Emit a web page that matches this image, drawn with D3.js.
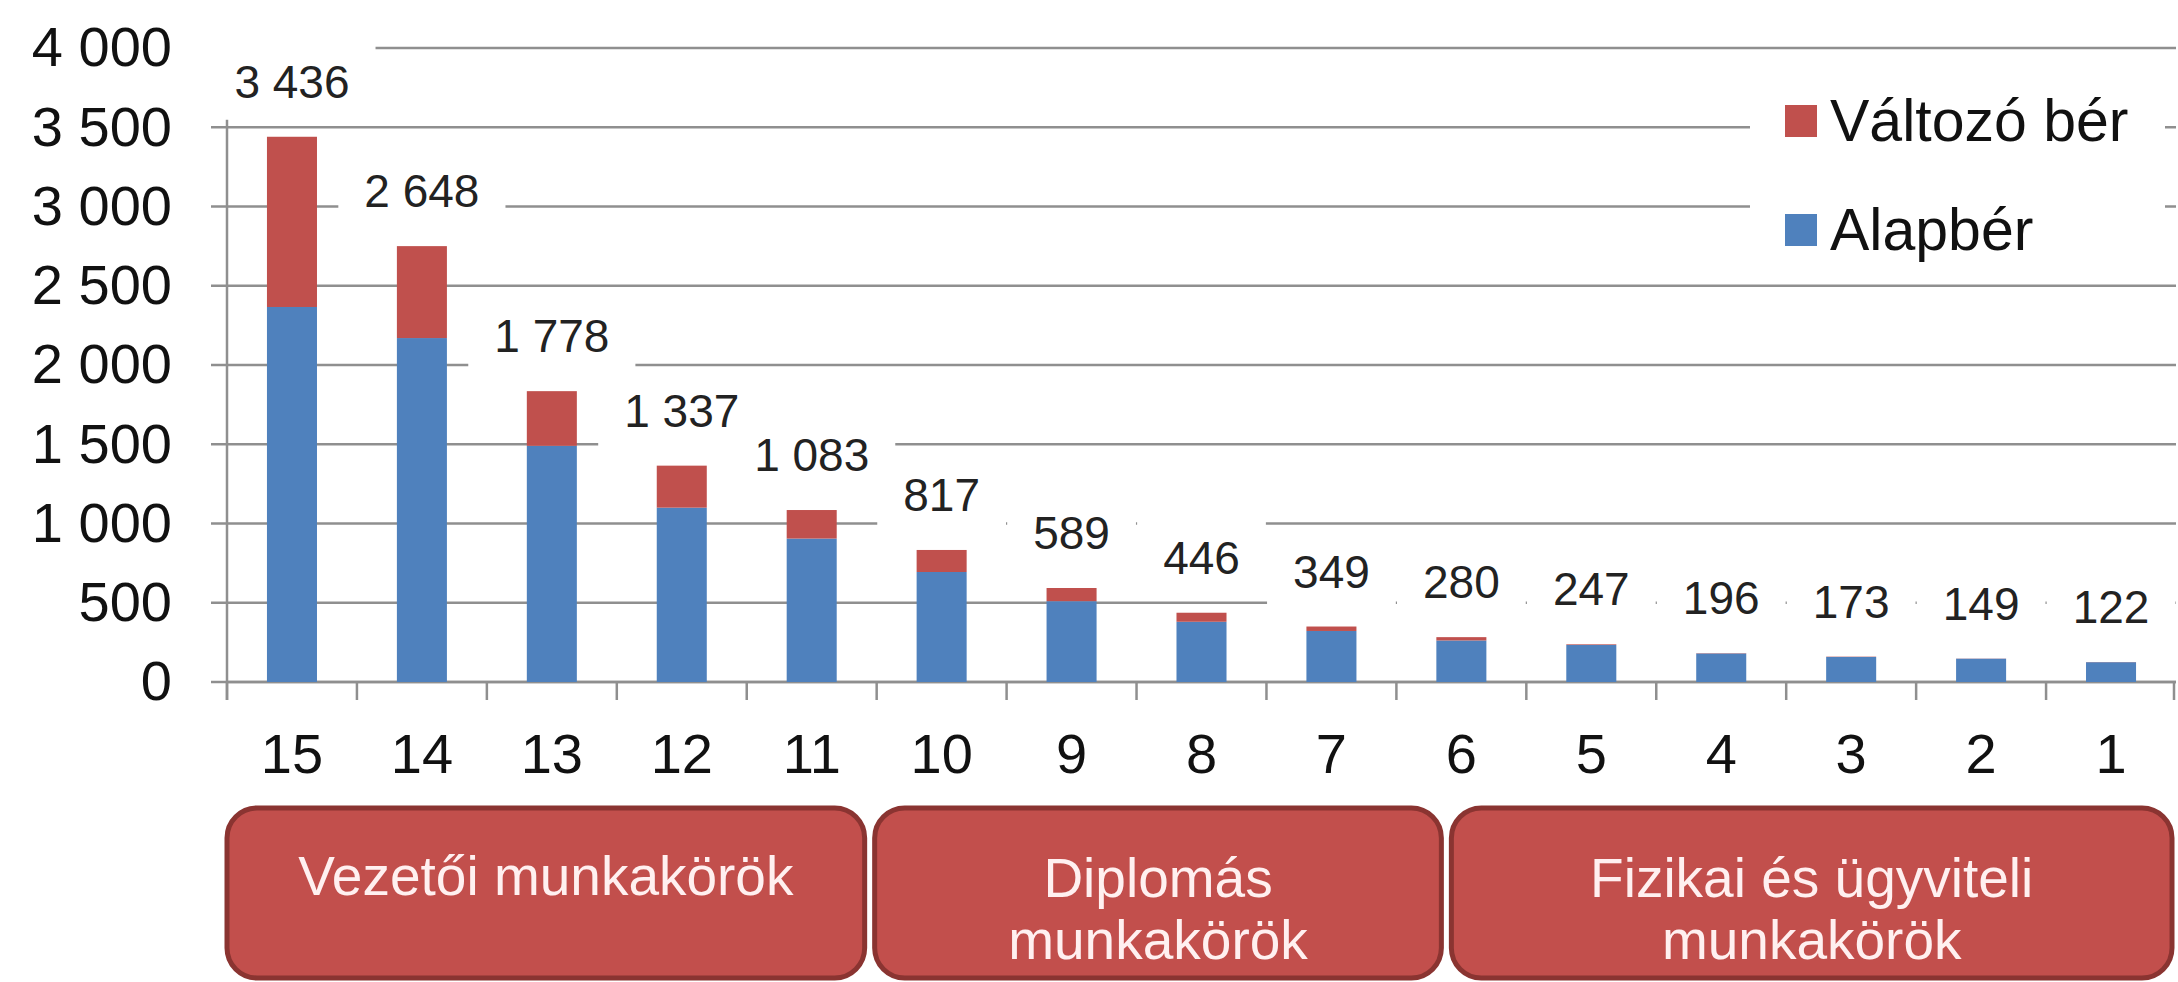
<!DOCTYPE html>
<html>
<head>
<meta charset="utf-8">
<script src="https://cdn.jsdelivr.net/npm/d3@7"></script>
<style>
  html, body { margin: 0; padding: 0; background: #ffffff; }
  svg { display: block; }
  text { font-family: "Liberation Sans", Arial, sans-serif; }
</style>
</head>
<body>
<svg id="chart" width="2178" height="982"></svg>
<script>
// ---- data ----
const categories = ["15","14","13","12","11","10","9","8","7","6","5","4","3","2","1"];
const alapber = [2366, 2170, 1490, 1100, 905, 694, 510, 380, 322, 262, 234, 180, 158, 147, 125];
const valtozo = [1074, 580, 345, 265, 180, 139, 83, 57, 28, 21, 4, 2, 2, 1, 1];
const totalLabels = ["3 436","2 648","1 778","1 337","1 083","817","589","446","349","280","247","196","173","149","122"];
const yTicks = [0, 500, 1000, 1500, 2000, 2500, 3000, 3500, 4000];
const seriesNames = ["Változó bér", "Alapbér"];
const groupLines = [["Vezetői munkakörök"], ["Diplomás", "munkakörök"], ["Fizikai és ügyviteli", "munkakörök"]];

// ---- layout ----
const W = 2178, H = 982;
const colBlue = "#4f81bd", colRed = "#c0504d", gridCol = "#8f8f8f";
const svg = d3.select("#chart");
svg.append("rect").attr("width", W).attr("height", H).attr("fill", "#fff");

const x = d3.scaleBand().domain(categories).range([227, 2176]).paddingInner(0.615).paddingOuter(0.3075);
const y = d3.scaleLinear().domain([0, 4000]).range([682, 48]);
const step = x.step();
const x0 = x.range()[0], x1 = x.range()[1];

const rows = categories.map((c, i) => ({ c, a: alapber[i], v: valtozo[i], lab: totalLabels[i] }));

// gridlines
svg.append("g").selectAll("line").data(yTicks).join("line")
  .attr("x1", x0 - 16).attr("x2", x1)
  .attr("y1", d => y(d)).attr("y2", d => y(d))
  .attr("stroke", gridCol).attr("stroke-width", 2.5);

// y axis tick labels via d3 axis
const yAxis = d3.axisLeft(y).tickValues(yTicks).tickSize(0).tickPadding(55)
  .tickFormat(d => d3.format(",")(d).replace(/,/g, " "));
const gy = svg.append("g").attr("transform", `translate(${x0},0)`).call(yAxis);
gy.select(".domain").remove();
gy.selectAll("text").attr("font-size", 56).attr("fill", "#111").attr("font-family", "Liberation Sans, Arial, sans-serif");

// axis lines
svg.append("line").attr("x1", x0).attr("x2", x0).attr("y1", y(4000)).attr("y2", y(0) + 18)
  .attr("stroke", gridCol).attr("stroke-width", 2.5);
svg.append("line").attr("x1", x0).attr("x2", x1).attr("y1", y(0)).attr("y2", y(0))
  .attr("stroke", gridCol).attr("stroke-width", 2.5);
svg.append("g").selectAll("line").data(d3.range(categories.length + 1)).join("line")
  .attr("x1", i => Math.min(x0 + i * step, x1 - 2)).attr("x2", i => Math.min(x0 + i * step, x1 - 2))
  .attr("y1", y(0)).attr("y2", y(0) + 18)
  .attr("stroke", gridCol).attr("stroke-width", 2.5);

// x axis labels
const xAxis = d3.axisBottom(x).tickSize(0).tickPadding(0);
const gx = svg.append("g").attr("transform", `translate(0,${y(0)})`).call(xAxis);
gx.select(".domain").remove();
gx.selectAll("text").attr("y", 91).attr("dy", 0).attr("font-size", 56).attr("fill", "#111")
  .attr("font-family", "Liberation Sans, Arial, sans-serif");

// data label backgrounds + text
const labelFont = 46;
const lblG = svg.append("g");
const lbl = lblG.selectAll("g").data(rows).join("g")
  .attr("transform", d => `translate(${x(d.c) + x.bandwidth() / 2},${y(d.a + d.v) - 55})`);
lbl.append("rect").attr("class", "bg").attr("fill", "#fff");
lbl.append("text").text(d => d.lab)
  .attr("text-anchor", "middle").attr("dy", "0.35em")
  .attr("font-size", labelFont).attr("fill", "#222");
lbl.each(function () {
  const g = d3.select(this);
  const w = g.select("text").node().getComputedTextLength();
  g.select("rect").attr("x", -w / 2 - 26).attr("width", w + 52).attr("y", -38).attr("height", 76);
});

// stacked bars
const bars = svg.append("g");
bars.selectAll("rect.alap").data(rows).join("rect").attr("class", "alap")
  .attr("x", d => x(d.c)).attr("width", x.bandwidth())
  .attr("y", d => y(d.a)).attr("height", d => y(0) - y(d.a))
  .attr("fill", colBlue);
bars.selectAll("rect.valt").data(rows).join("rect").attr("class", "valt")
  .attr("x", d => x(d.c)).attr("width", x.bandwidth())
  .attr("y", d => y(d.a + d.v)).attr("height", d => y(d.a) - y(d.a + d.v))
  .attr("fill", colRed);

// legend
const leg = svg.append("g");
leg.append("rect").attr("x", 1750).attr("y", 68).attr("width", 415).attr("height", 205).attr("fill", "#fff");
const legItems = [{ name: seriesNames[0], col: colRed, cy: 121 }, { name: seriesNames[1], col: colBlue, cy: 230 }];
const li = leg.selectAll("g").data(legItems).join("g").attr("transform", d => `translate(1785,${d.cy})`);
li.append("rect").attr("x", 0).attr("y", -16).attr("width", 32).attr("height", 32).attr("fill", d => d.col);
li.append("text").text(d => d.name).attr("x", 45).attr("y", 20)
  .attr("font-size", 59).attr("fill", "#111");

// category boxes
const edges = [x0, x0 + 5 * step, x0 + 9.5 * step, x1];
const boxes = groupLines.map((lines, i) => ({
  lines,
  left: i === 0 ? edges[0] : edges[i] - 2 + (i === 2 ? -8 : 0),
  right: i === 2 ? edges[3] - 4 : edges[i + 1] - 12 - (i === 1 ? 8 : 0)
}));
const bx = svg.append("g").selectAll("g").data(boxes).join("g");
bx.append("rect")
  .attr("x", d => d.left).attr("y", 808)
  .attr("width", d => d.right - d.left).attr("height", 170)
  .attr("rx", 30).attr("ry", 30)
  .attr("fill", "#c24f4c").attr("stroke", "#8a3431").attr("stroke-width", 5);
bx.each(function (d) {
  const g = d3.select(this);
  const cx = (d.left + d.right) / 2;
  const baselines = d.lines.length === 1 ? [895] : [897, 959];
  d.lines.forEach((t, k) => {
    g.append("text").text(t).attr("x", cx).attr("y", baselines[k])
      .attr("text-anchor", "middle").attr("font-size", 55).attr("fill", "#fff0f0");
  });
});
</script>
</body>
</html>
